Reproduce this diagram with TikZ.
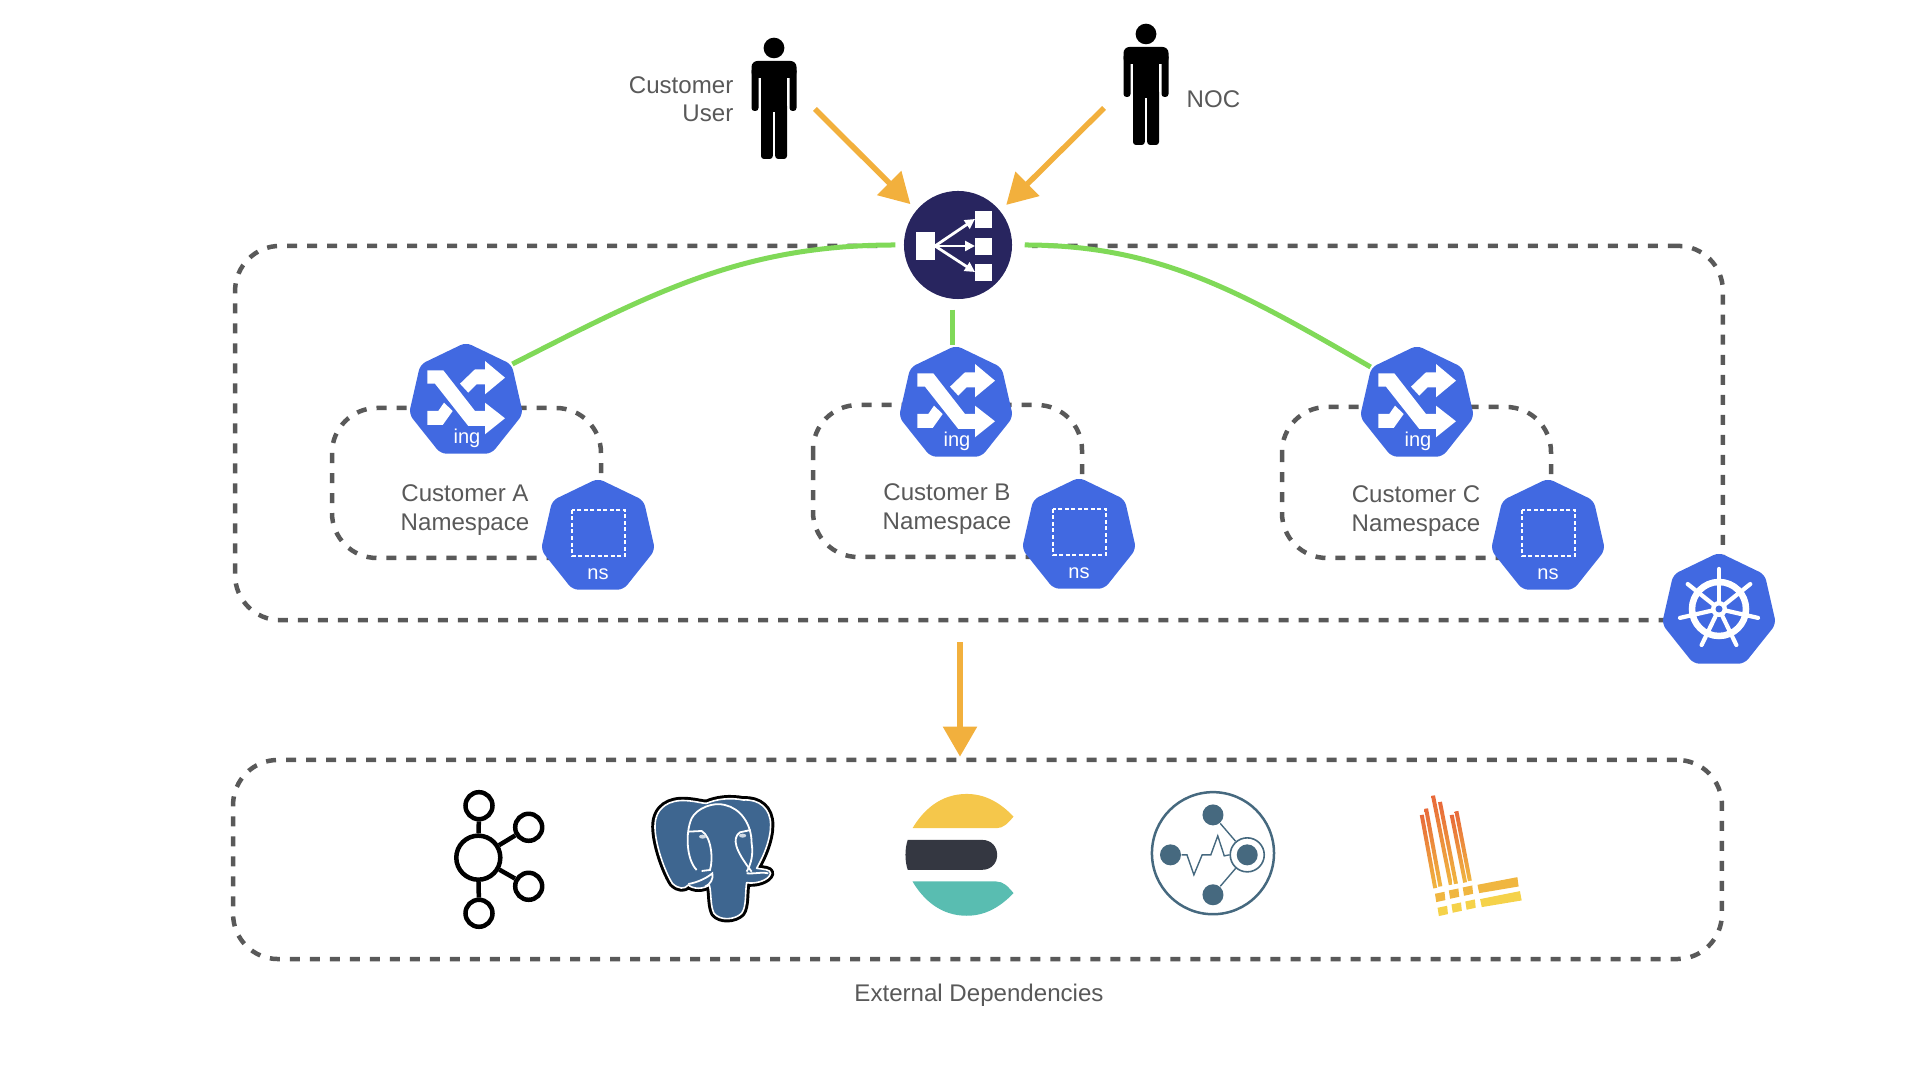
\documentclass[tikz,border=0pt]{standalone}
\usepackage{fontspec}
\setmainfont{Liberation Sans}
\usepackage{tikz}
\usetikzlibrary{shapes.geometric, arrows.meta, calc}
\definecolor{kubeblue}{HTML}{4169E1}
\definecolor{lbnavy}{HTML}{28255F}
\definecolor{arroworange}{HTML}{F2B03D}
\definecolor{linegreen}{HTML}{80D958}
\definecolor{dashgray}{HTML}{595959}
\definecolor{pgblue}{HTML}{3E6690}
\definecolor{esyellow}{HTML}{F5C74B}
\definecolor{esdark}{HTML}{343741}
\definecolor{esteal}{HTML}{59BDB1}
\definecolor{synblue}{HTML}{46697F}
\definecolor{lokired}{HTML}{E8693A}
\definecolor{lokimid}{HTML}{F0B640}
\definecolor{lokiyellow}{HTML}{F5D24A}
\tikzset{
  dashbox/.style={draw=dashgray, line width=0.045cm, dash pattern=on 0.1cm off 0.1cm, rounded corners=0.45cm},
  kubehept/.style={regular polygon, regular polygon sides=7, fill=kubeblue, minimum size=1.17cm, inner sep=0pt, rounded corners=0.06cm},
  lbltext/.style={text=dashgray, font=\fontsize{6.85}{8.1}\selectfont, inner sep=0pt},
  kubetext/.style={text=white, font=\fontsize{5.7}{7}\selectfont, inner sep=0pt},
  orangearrow/.style={draw=arroworange, line width=0.055cm, -{Triangle[length=0.3cm, width=0.33cm, fill=arroworange]}},
  greenline/.style={draw=linegreen, line width=0.05cm},
  kafkabig/.style={circle, draw=black, line width=0.045cm, minimum size=0.44cm, inner sep=0pt},
  kafkasmall/.style={circle, draw=black, line width=0.045cm, minimum size=0.27cm, inner sep=0pt},
  syndot/.style={circle, fill=synblue, minimum size=0.21cm, inner sep=0pt},
  synlink/.style={draw=synblue, line width=0.014cm},
}
\newcommand{\pgshape}{(675,170) .. controls (675,110) and (720,88) .. (770,92)
  .. controls (800,94) and (815,100) .. (830,100)
  .. controls (860,87) and (900,82) .. (940,90)
  .. controls (988,87) and (1022,115) .. (1022,165)
  .. controls (1022,210) and (1000,260) .. (980,295)
  .. controls (1000,298) and (1022,298) .. (1022,310)
  .. controls (1017,332) and (975,343) .. (950,338)
  .. controls (945,370) and (950,410) .. (935,430)
  .. controls (915,450) and (870,453) .. (852,430)
  .. controls (840,405) and (845,370) .. (838,345)
  .. controls (820,358) and (790,358) .. (775,345)
  .. controls (765,358) and (745,358) .. (727,340)
  .. controls (702,300) and (675,220) .. (675,170) -- cycle}

\begin{document}
\begin{tikzpicture}[x=0.01cm, y=-0.01cm]
  \useasboundingbox (0,0) rectangle (1920,1080);

  % Cluster and dependency frames
  \node[dashbox, minimum width=14.87cm, minimum height=3.74cm] (cluster) at (979,433) {};
  \node[dashbox, minimum width=14.88cm, minimum height=1.99cm] (deps) at (977.5,859.5) {};
  \fill[white] (880,240) rectangle (1032,252);

  % Customer namespaces
  \foreach \cust/\lbl/\ix/\iy/\nx/\ny/\bl/\bt/\br/\bb/\tx/\ty in {
    A/Customer A/466/401/598/537/332/408/601/558/465/510,
    B/Customer B/956/404/1079/536/813/405/1082/557/947/509,
    C/Customer C/1417/404/1548/537/1282/407/1551/558/1416/511
  }{
    \draw[dashbox] (\bl,\bt) rectangle (\br,\bb);
    \node[lbltext, align=center] (txt\cust) at (\tx,\ty) {\lbl\\Namespace};
    \node[kubehept] (ing\cust) at (\ix,\iy) {};
    \node[kubehept] (ns\cust) at (\nx,\ny) {};
    \node[kubetext] (ingtxt\cust) at (\ix+1,\iy+37) {ing};
    \node[kubetext] (nstxt\cust) at (\nx,\ny+37) {ns};
    \begin{scope}[shift={(\ix,\iy)}]
      \fill[white] (-38.7,-30.7) -- (-22.7,-30.7) -- (9,10) -- (19,10) -- (19,1.7) -- (39,17.3) -- (19,33.3)
        -- (19,25) -- (2.3,25) -- (-31,-17.3) -- (-38.7,-17.3) -- cycle;
      \fill[white] (19,-31.7) -- (19,-40) -- (39,-23.3) -- (19,-6.7) -- (19,-16.7) -- (10.7,-16.7)
        -- (2.3,-8.3) -- (-6,-17.3) -- (9,-31.7) -- cycle;
      \fill[white] (-38.7,10) -- (-27.7,10) -- (-22,1.7) -- (-13.3,10) -- (-23.3,24) -- (-38.7,24) -- cycle;
    \end{scope}
    \draw[white, line width=0.022cm, dash pattern=on 0.04cm off 0.025cm] (\nx-26,\ny-27) rectangle (\nx+27,\ny+19);
  }

  % Load balancer
  \node[circle, fill=lbnavy, minimum size=1.08cm, inner sep=0pt] (lb) at (958,245) {};
  \fill[white] (916,232) rectangle (935,260);
  \foreach \y in {211,238,264}{
    \fill[white] (975,\y) rectangle (992,\y+17);
    \draw[white, line width=0.028cm, -{Triangle[length=0.1cm, width=0.1cm]}] (935,246) -- (975,\y+8);
  }

  % Kubernetes wheel
  \node[kubehept] (kube) at (1719,611) {};
  \begin{scope}[shift={(1719,609)}]
    \draw[white, line width=0.065cm] (0,0) circle (27);
    \foreach \a in {0,...,6}{
      \draw[white, line width=0.042cm, line cap=round] (0,0) -- ({270+\a*360/7}:40);
    }
    \fill[white] (0,0) circle (8);
    \fill[kubeblue] (0,0) circle (3.5);
  \end{scope}

  % People
  \foreach \px/\py in {774/48, 1146/34}{
    \begin{scope}[shift={(\px,\py)}]
      \fill[black] (0,0) ellipse (10.4 and 10.3);
      \fill[black, rounded corners=0.06cm] (-22.5,13) rectangle (22.5,30);
      \fill[black, rounded corners=0.03cm] (-22.5,20) rectangle (-15.5,63);
      \fill[black, rounded corners=0.03cm] (15.5,20) rectangle (22.5,63);
      \fill[black] (-13,20) rectangle (13,64);
      \fill[black, rounded corners=0.03cm] (-13,55) rectangle (-1.2,111);
      \fill[black, rounded corners=0.03cm] (1.2,55) rectangle (13,111);
    \end{scope}
  }
  \node[lbltext, align=right, anchor=east] (custuser) at (734,99) {Customer\\User};
  \node[lbltext, anchor=west] (noc) at (1186,99) {NOC};
  \coordinate (userout) at (815,109);
  \coordinate (nocout) at (1104,108);

  % Connectors
  \draw[orangearrow, shorten >=0.08cm] (userout) -- (lb.140);
  \draw[orangearrow, shorten >=0.08cm] (nocout) -- (lb.39);
  \draw[orangearrow, shorten <=0.2cm, shorten >=0.01cm] ([xshift=0.02cm]cluster.south -| lb) -- ([xshift=0.02cm]deps.north -| lb);
  \draw[greenline, shorten <=0.08cm] (lb.west) to[out=180, in=27] (ingA.corner 7);
  \draw[greenline, shorten <=0.12cm] (lb.east) to[out=0, in=150] (ingC.corner 2);
  \draw[greenline, shorten <=0.1cm] ([xshift=-0.04cm]lb.south -| ingB) -- ([xshift=-0.04cm]ingB.north);

  % Kafka
  \node[kafkabig] (kafka) at (478.3,857.7) {};
  \foreach \nm/\kx/\ky in {ktop/479/805.7, kup/528.7/827.3, klow/528.7/886.3, kbot/479/913.3}{
    \node[kafkasmall] (\nm) at (\kx,\ky) {};
    \draw[black, line width=0.045cm] (kafka) -- (\nm);
  }

  % Postgres
  \begin{scope}[shift={(430,770)}, scale=0.3333]
    \draw[draw=black, line width=0.075cm, line join=round] \pgshape;
    \draw[fill=pgblue, draw=white, line width=0.016cm, line join=round] \pgshape;
    \draw[white, line width=0.018cm] (800,300) .. controls (770,270) and (765,190) .. (785,145)
      .. controls (800,115) and (850,95) .. (885,105)
      .. controls (930,115) and (965,160) .. (965,220)
      .. controls (970,250) and (965,280) .. (950,305);
    \draw[white, line width=0.018cm] (775,185) -- (815,183) .. controls (845,200) and (850,270) .. (840,300) -- (815,303);
    \draw[white, line width=0.018cm] (962,180) -- (930,187) .. controls (905,205) and (915,240) .. (965,305);
    \draw[white, line width=0.018cm] (775,342) .. controls (800,338) and (830,325) .. (847,310) .. controls (852,325) and (840,345) .. (825,350);
    \draw[white, line width=0.018cm] (950,310) .. controls (975,312) and (1000,305) .. (1015,310);
    \fill[white!75!pgblue] (818,200) ellipse (11 and 6);
    \fill[white!75!pgblue] (938,197) ellipse (11 and 6);
  \end{scope}

  % Elastic, Synthetic and Loki in the same frame
  \begin{scope}[shift={(880,770)}, x=0.004337cm, y=-0.003333cm]
    \fill[esyellow] (75,175) -- (268,175) .. controls (285,175) and (295,160) .. (308,140)
      .. controls (275,95) and (240,72) .. (200,72) .. controls (140,72) and (100,120) .. (75,175) -- cycle;
    \fill[esdark] (64,210) -- (235,210) .. controls (282,210) and (282,300) .. (235,300) -- (64,300)
      .. controls (57,275) and (57,235) .. (64,210) -- cycle;
    \fill[esteal] (75,335) -- (268,335) .. controls (285,335) and (295,350) .. (308,370)
      .. controls (275,415) and (240,438) .. (200,438) .. controls (140,438) and (100,390) .. (75,335) -- cycle;

    \node[circle, draw=synblue, line width=0.025cm, minimum size=1.22cm, inner sep=0pt] (synframe) at (768,250) {};
    \node[syndot] (syntop) at (768,135) {};
    \node[syndot] (synleft) at (670,255) {};
    \node[syndot] (synbot) at (768,375) {};
    \node[syndot] (syncore) at (847,255) {};
    \node[circle, draw=synblue, line width=0.016cm, minimum size=0.34cm, inner sep=0pt] (synring) at (847,255) {};
    \draw[synlink] (syntop) -- (synring);
    \draw[synlink] (synbot) -- (synring);
    \draw[synlink] (synleft.east) -- (708,255) -- (724,315) -- (743,255) -- (763,255) -- (779,198) -- (794,258) -- (synring.west);

    \foreach \xa/\ya/\xb/\yb in {1245/136/1280/355, 1255/117/1292/350, 1271/78/1316/345, 1287/97/1328/342, 1314/136/1349/338, 1325/125/1360/333}{
      \shade[top color=lokired, bottom color=lokimid] (\xa,\ya) -- (\xa+9,\ya-2) -- (\xb+5,\yb-1) -- (\xb-4,\yb+1) -- cycle;
    }
    \foreach \dx/\dy in {0/0, 32/-10, 64/-19}{
      \fill[lokimid] (1280+\dx,372+\dy) -- (1302+\dx,366+\dy) -- (1304+\dx,391+\dy) -- (1283+\dx,397+\dy) -- cycle;
      \fill[lokiyellow] (1286+\dx,414+\dy) -- (1308+\dx,408+\dy) -- (1310+\dx,433+\dy) -- (1289+\dx,439+\dy) -- cycle;
    }
    \fill[lokimid] (1378,345) -- (1470,322) -- (1473,350) -- (1382,370) -- cycle;
    \fill[lokiyellow] (1384,388) -- (1476,364) -- (1480,392) -- (1388,412) -- cycle;
  \end{scope}

  \node[lbltext] (depstxt) at (979,995) {External Dependencies};

\end{tikzpicture}
\end{document}
